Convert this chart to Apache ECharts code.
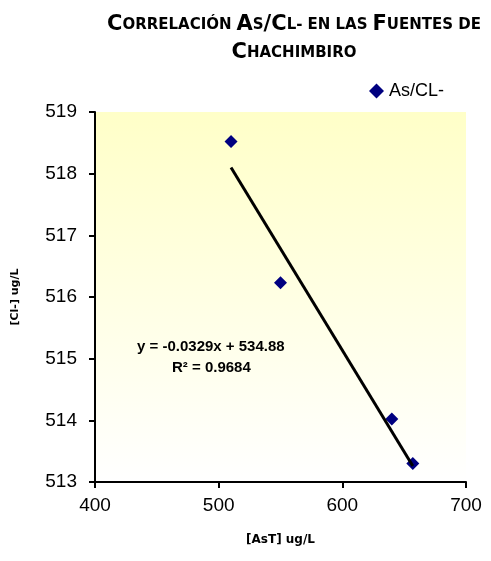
<!DOCTYPE html>
<html><head><meta charset="utf-8">
<script src="https://cdn.jsdelivr.net/npm/echarts@6/dist/echarts.min.js"></script>
<style>html,body{margin:0;padding:0;background:#fff}#c{width:491px;height:561px}</style>
</head><body><div id="c"></div>
<script>
const asT = [510, 550, 640, 657];
const cl = [518.52, 516.23, 514.02, 513.3];
const trendX = [510, 657];
const trendY = [518.1, 513.26];
const xTicks = [400, 700, 100];
const yTicks = [513, 519, 1];
const seriesName = 'As/CL-';

const chart = echarts.init(document.getElementById('c'));
const big = {fontSize: 21, fontWeight: 900, fontFamily: 'DejaVu Sans', color: '#000'};
const sm = {fontSize: 15, fontWeight: 900, fontFamily: 'DejaVu Sans', color: '#000'};
chart.setOption({
  animation: false,
  title: {
    text: '{b|C}{s|ORRELACIÓN} {b|A}{s|S}{b|/C}{s|L-} {s|EN LAS} {b|F}{s|UENTES DE}\n{b|C}{s|HACHIMBIRO}',
    left: 289, top: 6, textAlign: 'center',
    textStyle: {rich: {b: big, s: sm}, lineHeight: 28}
  },
  legend: {
    data: [seriesName], left: 364, top: 77, itemWidth: 15, itemHeight: 15, itemGap: 5,
    textStyle: {fontSize: 18, fontFamily: 'Liberation Sans', color: '#000'}
  },
  grid: {left: 95, right: 25, top: 112, bottom: 79, show: true, borderWidth: 0,
    backgroundColor: new echarts.graphic.LinearGradient(0, 0, 0, 1, [
      {offset: 0, color: '#FFFFC8'}, {offset: 1, color: '#FFFFFF'}])},
  xAxis: {
    type: 'value', min: xTicks[0], max: xTicks[1], interval: xTicks[2],
    name: '[AsT] ug/L', nameLocation: 'middle', nameGap: 52,
    nameTextStyle: {fontSize: 12, fontWeight: 'bold', fontFamily: 'DejaVu Sans', color: '#000'},
    axisLine: {lineStyle: {color: '#000', width: 2}},
    axisTick: {lineStyle: {color: '#000', width: 2}, length: 6},
    axisLabel: {fontSize: 19, fontFamily: 'Liberation Sans', color: '#000', margin: 14},
    splitLine: {show: false}
  },
  yAxis: {
    type: 'value', min: yTicks[0], max: yTicks[1], interval: yTicks[2],
    name: '[Cl-] ug/L', nameLocation: 'middle', nameGap: 74,
    nameTextStyle: {fontSize: 11, fontWeight: 'bold', fontFamily: 'DejaVu Sans', color: '#000'},
    axisLine: {lineStyle: {color: '#000', width: 2}},
    axisTick: {lineStyle: {color: '#000', width: 2}, length: 6},
    axisLabel: {fontSize: 19, fontFamily: 'Liberation Sans', color: '#000', margin: 18},
    splitLine: {show: false}
  },
  series: [
    {name: seriesName, type: 'scatter', symbol: 'diamond', symbolSize: 13,
     itemStyle: {color: '#000080', opacity: 1}, data: asT.map((x, i) => [x, cl[i]]), z: 3},
    {name: 'trend', type: 'line', symbol: 'none', lineStyle: {color: '#000', width: 3},
     data: trendX.map((x, i) => [x, trendY[i]]), z: 4}
  ],
  graphic: [
    {type: 'text', left: 137, top: 339, style: {text: 'y = -0.0329x + 534.88', font: 'bold 15px "Liberation Sans"', fill: '#000'}},
    {type: 'text', left: 172, top: 360, style: {text: 'R² = 0.9684', font: 'bold 15px "Liberation Sans"', fill: '#000'}}
  ]
});
</script></body></html>
